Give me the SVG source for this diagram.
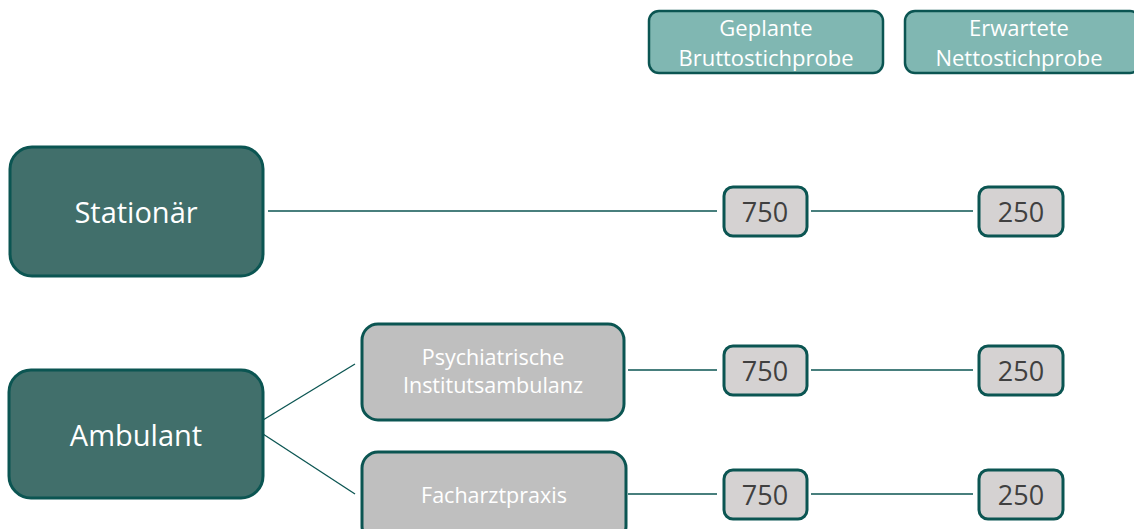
<svg xmlns="http://www.w3.org/2000/svg" width="1134" height="529" viewBox="0 0 1134 529">
<style>
.main{fill:#416F6B;stroke:#0B5552;stroke-width:3}
.head{fill:#80B7B2;stroke:#0B5552;stroke-width:2.5}
.sub{fill:#BFBFBF;stroke:#0B5552;stroke-width:3}
.num{fill:#D5D2D2;stroke:#0B5552;stroke-width:3}
.conn line{stroke:#0B5552;stroke-width:1.3}
text{font-family:"Open Sans","Liberation Sans",Arial,sans-serif;text-anchor:middle;dominant-baseline:central}
.tw{fill:#FFFFFF}
.th{font-size:22px}
.ts{font-size:21.5px}
.tb{font-size:29px}
.tn{fill:#404040;font-size:27px}
</style>
<rect width="1134" height="529" fill="#FFFFFF"/>
<g class="conn">
<line x1="268" y1="211" x2="717" y2="211"/>
<line x1="811" y1="211" x2="973" y2="211"/>
<line x1="263" y1="420" x2="355" y2="364"/>
<line x1="263" y1="434" x2="355" y2="494"/>
<line x1="628" y1="370" x2="717" y2="370"/>
<line x1="811" y1="370" x2="973" y2="370"/>
<line x1="628" y1="494" x2="717" y2="494"/>
<line x1="811" y1="494" x2="973" y2="494"/>
</g>
<g id="head1"><rect class="head" x="649" y="11" width="234" height="62" rx="10"/><text class="tw th" x="766" y="27">Geplante</text><text class="tw th" x="766" y="57">Bruttostichprobe</text></g>
<g id="head2"><rect class="head" x="905" y="11" width="235" height="62" rx="10"/><text class="tw th" x="1019" y="27">Erwartete</text><text class="tw th" x="1019" y="57">Nettostichprobe</text></g>
<g id="stationaer"><rect class="main" x="10" y="147" width="253" height="129" rx="22"/><text class="tw tb" x="136" y="211">Stationär</text></g>
<g id="ambulant"><rect class="main" x="9" y="370" width="254" height="128" rx="22"/><text class="tw tb" x="136" y="434">Ambulant</text></g>
<g id="pia"><rect class="sub" x="362" y="324" width="262" height="96" rx="16"/><text class="tw ts" x="493" y="356">Psychiatrische</text><text class="tw ts" x="493" y="384">Institutsambulanz</text></g>
<g id="fach"><rect class="sub" x="362" y="452" width="264" height="90" rx="16"/><text class="tw ts" x="494" y="494">Facharztpraxis</text></g>
<g id="n1"><rect class="num" x="724" y="187" width="83" height="49" rx="9"/><text class="tn" x="765" y="211">750</text></g>
<g id="n2"><rect class="num" x="979" y="187" width="84" height="49" rx="9"/><text class="tn" x="1021" y="211">250</text></g>
<g id="n3"><rect class="num" x="724" y="346" width="83" height="49" rx="9"/><text class="tn" x="765" y="370">750</text></g>
<g id="n4"><rect class="num" x="979" y="346" width="84" height="49" rx="9"/><text class="tn" x="1021" y="370">250</text></g>
<g id="n5"><rect class="num" x="724" y="470" width="83" height="49" rx="9"/><text class="tn" x="765" y="494">750</text></g>
<g id="n6"><rect class="num" x="979" y="470" width="84" height="49" rx="9"/><text class="tn" x="1021" y="494">250</text></g>
</svg>
